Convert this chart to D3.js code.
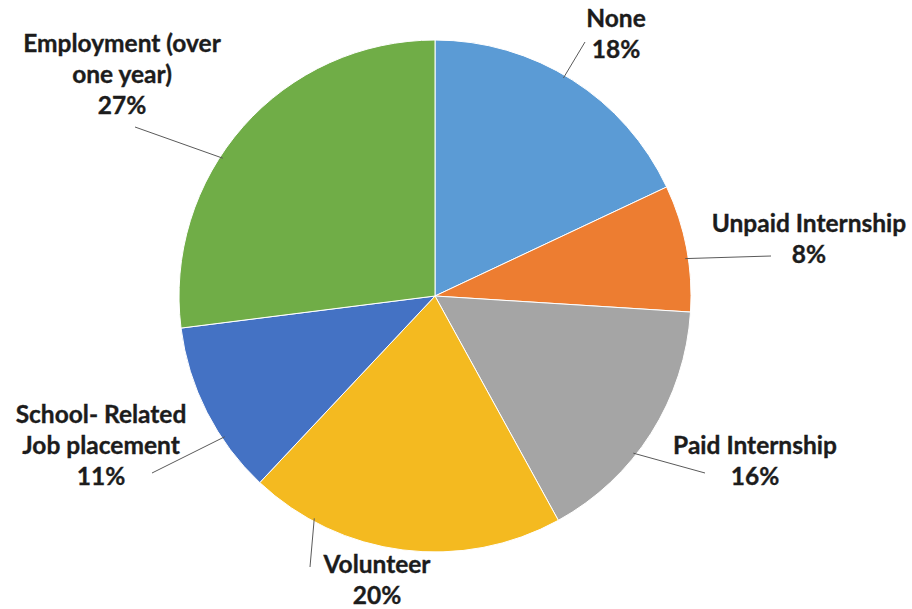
<!DOCTYPE html>
<html>
<head>
<meta charset="utf-8">
<script src="https://cdn.jsdelivr.net/npm/d3@7"></script>
<style>
  html, body { margin: 0; padding: 0; background: #fff; }
  svg { display: block; }
  .lbl { font-family: Lato, "Open Sans", sans-serif; font-weight: 700; fill: #1c1c1c; stroke: #1c1c1c; stroke-width: 0.35px; }
</style>
</head>
<body>
<svg id="chart" width="912" height="609"></svg>
<script>
// Work experience before study, share of respondents (%)
const categories = ["None", "Unpaid Internship", "Paid Internship", "Volunteer", "School- Related Job placement", "Employment (over one year)"];
const shares = [18, 8, 16, 20, 11, 27];
const colors = ["#5b9bd5", "#ed7d31", "#a5a5a5", "#f4ba20", "#4472c4", "#70ad47"];

// Label text lines (category wrapped as displayed), percent appended below
const labelLines = [
  ["None"],
  ["Unpaid Internship"],
  ["Paid Internship"],
  ["Volunteer"],
  ["School- Related", "Job placement"],
  ["Employment (over", "one year)"]
];

// Label layout: centre x, first baseline y, leader start (label side), leader angle on rim (deg)
const labelLayout = [
  { x: 616, y: 27,  lx: 585, ly: 42,  ang: 30.5 },
  { x: 809, y: 232, lx: 771, ly: 256, ang: 81.5 },
  { x: 755, y: 454, lx: 705, ly: 473, ang: 128.4 },
  { x: 377, y: 573, lx: 310, ly: 567, ang: 208.5 },
  { x: 101, y: 423, lx: 152, ly: 473, ang: 236.2 },
  { x: 122, y: 52,  lx: 135, ly: 127, ang: 303.0 }
];

const cx = 435, cy = 296, radius = 256, lineH = 31;

const svg = d3.select("#chart");
const g = svg.append("g").attr("transform", `translate(${cx},${cy})`);

const pie = d3.pie().value(d => d).sort(null);
const arcs = pie(shares);
const arc = d3.arc().innerRadius(0).outerRadius(radius);

g.selectAll("path.slice")
  .data(arcs)
  .join("path")
  .attr("class", "slice")
  .attr("d", arc)
  .attr("fill", (d, i) => colors[i])
  .attr("stroke", "#ffffff")
  .attr("stroke-width", 1);

// Leader lines from label to slice rim
svg.selectAll("line.leader")
  .data(labelLayout)
  .join("line")
  .attr("class", "leader")
  .attr("x1", d => d.lx)
  .attr("y1", d => d.ly)
  .attr("x2", d => cx + (radius - 3) * Math.sin(d.ang * Math.PI / 180))
  .attr("y2", d => cy - (radius - 3) * Math.cos(d.ang * Math.PI / 180))
  .attr("stroke", "#5a5a5a")
  .attr("stroke-width", 1);

// Labels
const labels = svg.selectAll("text.lbl")
  .data(arcs)
  .join("text")
  .attr("class", "lbl")
  .attr("text-anchor", "middle")
  .attr("font-size", 24.5);

labels.each(function (d, i) {
  const t = d3.select(this);
  const L = labelLayout[i];
  const lines = labelLines[i].concat([shares[i] + "%"]);
  lines.forEach((s, k) => {
    t.append("tspan")
      .attr("x", L.x)
      .attr("y", L.y + k * lineH)
      .text(s);
  });
});
</script>
</body>
</html>
